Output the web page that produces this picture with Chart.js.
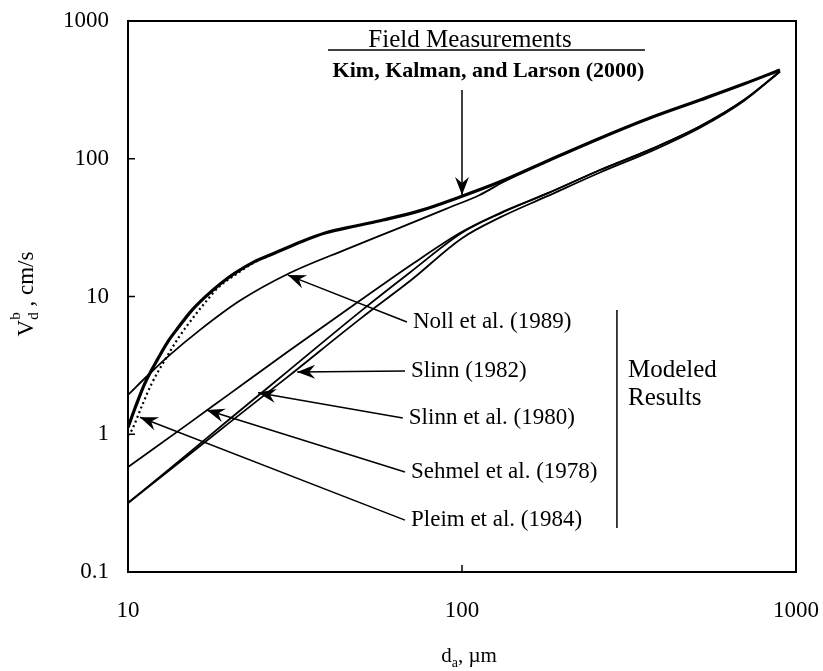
<!DOCTYPE html>
<html>
<head>
<meta charset="utf-8">
<script src="https://cdn.jsdelivr.net/npm/chart.js@4.4.0/dist/chart.umd.min.js"></script>
<style>
  html, body { margin: 0; padding: 0; background: #fff; }
  #wrap { width: 823px; height: 671px; }
</style>
</head>
<body>
<div id="wrap"><canvas id="chart" width="823" height="671"></canvas></div>
<script>
// decade ticks
const X_TICKS = [10, 100, 1000];
const Y_TICKS = [0.1, 1, 10, 100, 1000];

// Kim, Kalman and Larson (2000) field measurements
const fieldD = [10, 10.5, 11.24, 12.3, 13.2, 14.1, 15.5, 17, 19, 20.9, 24, 27.5, 33, 38.9, 48, 58, 75, 98.6, 130, 183, 259, 370, 516, 700, 895];
const fieldV = [1.12, 1.55, 2.35, 3.55, 4.75, 5.9, 7.9, 9.9, 12.5, 14.8, 18, 20.7, 25, 28.9, 32.5, 35.9, 42, 52.8, 68, 98, 141, 200, 267, 350, 441];

// Pleim et al. (1984) - dotted
const pleimD = [10, 10.26, 11, 11.78, 12.9, 14.15, 15.86, 17, 18.6, 20.9, 24, 27.5];
const pleimV = [0.98, 1.07, 1.6, 2.34, 3.46, 5.0, 7.3, 9.0, 11.6, 14.3, 17.8, 20.6];

// Noll et al. (1989)
const nollD = [10, 11.6, 13.4, 16.4, 21.6, 30.5, 45, 65, 90, 113, 133, 183, 259, 370, 516, 700, 895];
const nollV = [1.93, 2.75, 3.8, 5.7, 9.3, 14.8, 22, 31.5, 43.5, 54.6, 67.8, 98, 141, 200, 267, 350, 441];

// Sehmel et al. (1978)
const sehmelD = [10, 15, 20, 30, 50, 70, 100, 130, 180, 259, 370, 516, 700, 895];
const sehmelV = [0.578, 1.17, 1.94, 3.95, 9.5, 16.8, 29.5, 40.4, 56, 82.9, 118, 172, 268, 430];

// Slinn et al. (1980)
const slinn80D = [10, 15, 20, 30, 50, 70, 100, 130, 180, 259, 370, 516, 700, 895];
const slinn80V = [0.317, 0.71, 1.27, 2.85, 7.9, 15.0, 29, 40, 56, 82.9, 118, 172, 268, 430];

// Slinn (1982)
const slinn82D = [10, 15, 20, 30, 50, 70, 100, 130, 180, 259, 370, 516, 700, 895];
const slinn82V = [0.317, 0.69, 1.2, 2.6, 7.0, 13.0, 26.5, 37.5, 53.5, 79.5, 114, 168, 264, 428];

const MODEL_LABELS = ['Noll et al. (1989)', 'Slinn (1982)', 'Slinn et al. (1980)', 'Sehmel et al. (1978)', 'Pleim et al. (1984)'];
// arrow tip on curve and label anchor, in data units (d, V)
const ARROW_TIPS = [[30.1, 14.3], [32.1, 2.83], [24.5, 2.0], [17.2, 1.5], [10.86, 1.33]];
const ARROW_TAILS = [[68.4, 6.53], [67.5, 2.88], [66.5, 1.31], [67.5, 0.532], [67.5, 0.238]];

const SERIF = '"Liberation Serif", "Times New Roman", serif';

function pts(ds, vs) {
    return ds.map((d, i) => ({ x: d, y: vs[i] }));
}

function series(label, ds, vs, width, dash) {
    return {
        label: label,
        data: pts(ds, vs),
        showLine: true,
        borderColor: '#000',
        borderWidth: width,
        borderDash: dash || [],
        pointRadius: 0,
        fill: false,
        cubicInterpolationMode: 'monotone'
    };
}

function drawArrow(ctx, x1, y1, x2, y2) {
    ctx.beginPath();
    ctx.moveTo(x1, y1);
    ctx.lineTo(x2, y2);
    ctx.stroke();
    const a = Math.atan2(y2 - y1, x2 - x1);
    const len = 18, hw = 7, notch = 12;
    ctx.save();
    ctx.translate(x2, y2);
    ctx.rotate(a);
    ctx.beginPath();
    ctx.moveTo(0, 0);
    ctx.lineTo(-len, -hw);
    ctx.lineTo(-notch, 0);
    ctx.lineTo(-len, hw);
    ctx.closePath();
    ctx.fill();
    ctx.restore();
}

// draw text pieces with sub/superscripts, returns total width
function richText(ctx, parts, x, y, measureOnly) {
    let cx = x;
    parts.forEach(p => {
        if (p.stack) {
            let w = 0;
            p.stack.forEach(s => {
                ctx.font = s.size + 'px ' + SERIF;
                if (!measureOnly) ctx.fillText(s.t, cx, y + s.dy);
                w = Math.max(w, ctx.measureText(s.t).width);
            });
            cx += w;
        } else {
            ctx.font = (p.size || 23) + 'px ' + SERIF;
            if (!measureOnly) ctx.fillText(p.t, cx, y + (p.dy || 0));
            cx += ctx.measureText(p.t).width;
        }
    });
    return cx - x;
}

const decorPlugin = {
    id: 'decor',
    afterDraw(chart) {
        const ctx = chart.ctx;
        const area = chart.chartArea;
        const xs = chart.scales.x, ys = chart.scales.y;
        const px = d => xs.getPixelForValue(d);
        const py = v => ys.getPixelForValue(v);
        ctx.save();
        ctx.strokeStyle = '#000';
        ctx.fillStyle = '#000';

        // frame
        ctx.lineWidth = 2;
        ctx.strokeRect(area.left, area.top, area.right - area.left, area.bottom - area.top);

        // inner tick marks
        ctx.lineWidth = 1.5;
        Y_TICKS.slice(1, -1).forEach(v => {
            ctx.beginPath();
            ctx.moveTo(area.left, py(v));
            ctx.lineTo(area.left + 7, py(v));
            ctx.stroke();
        });
        X_TICKS.slice(1, -1).forEach(d => {
            ctx.beginPath();
            ctx.moveTo(px(d), area.bottom);
            ctx.lineTo(px(d), area.bottom - 7);
            ctx.stroke();
        });

        // axis titles
        ctx.textBaseline = 'alphabetic';
        ctx.textAlign = 'left';
        const xTitle = [{ t: 'd', size: 21 }, { t: 'a', size: 14, dy: 5 }, { t: ', \u00b5m', size: 21 }];
        const xw = richText(ctx, xTitle, 0, 0, true);
        richText(ctx, xTitle, px(105) - xw / 2, 662);

        const yTitle = [{ t: 'V' }, { stack: [{ t: 'd', size: 15, dy: 5 }, { t: 'b', size: 15, dy: -13 }] }, { t: ' , cm/s' }];
        const yw = richText(ctx, yTitle, 0, 0, true);
        ctx.save();
        ctx.translate(33, 294);
        ctx.rotate(-Math.PI / 2);
        richText(ctx, yTitle, -yw / 2, 0);
        ctx.restore();

        // field measurement header
        ctx.textAlign = 'center';
        ctx.textBaseline = 'middle';
        ctx.font = '25px ' + SERIF;
        ctx.fillText('Field Measurements', px(105.7), py(728));
        ctx.lineWidth = 1.5;
        ctx.beginPath();
        ctx.moveTo(px(39.7), py(615));
        ctx.lineTo(px(353), py(615));
        ctx.stroke();
        ctx.font = 'bold 22px ' + SERIF;
        ctx.fillText('Kim, Kalman, and Larson (2000)', px(120), py(433));
        ctx.lineWidth = 1.5;
        drawArrow(ctx, px(100), py(316), px(100), py(54.6));

        // model labels and arrows
        ctx.textAlign = 'left';
        ctx.font = '23px ' + SERIF;
        MODEL_LABELS.forEach((lab, i) => {
            const tail = ARROW_TAILS[i], tip = ARROW_TIPS[i];
            ctx.lineWidth = 1.5;
            drawArrow(ctx, px(tail[0]), py(tail[1]), px(tip[0]), py(tip[1]));
            ctx.fillText(lab, px(tail[0]) + 6, py(tail[1]));
        });

        // bracket and "Modeled Results"
        ctx.lineWidth = 1.5;
        ctx.beginPath();
        ctx.moveTo(px(291), py(7.98));
        ctx.lineTo(px(291), py(0.209));
        ctx.stroke();
        ctx.font = '25px ' + SERIF;
        ctx.fillText('Modeled', px(314), py(2.93));
        ctx.fillText('Results', px(314), py(1.83));

        ctx.restore();
    }
};

const tickFont = { family: SERIF, size: 23 };

new Chart(document.getElementById('chart'), {
    type: 'scatter',
    data: {
        datasets: [
            series('Kim, Kalman, and Larson (2000)', fieldD, fieldV, 3.2),
            series('Pleim et al. (1984)', pleimD, pleimV, 2.2, [2, 3]),
            series('Noll et al. (1989)', nollD, nollV, 1.8),
            series('Sehmel et al. (1978)', sehmelD, sehmelV, 1.8),
            series('Slinn et al. (1980)', slinn80D, slinn80V, 1.8),
            series('Slinn (1982)', slinn82D, slinn82V, 1.8)
        ]
    },
    options: {
        responsive: false,
        animation: false,
        layout: { padding: { left: 0, top: 21, right: 27, bottom: 0 } },
        plugins: { legend: { display: false }, tooltip: { enabled: false } },
        scales: {
            x: {
                type: 'logarithmic',
                min: 10,
                max: 1000,
                grid: { display: false },
                border: { display: false },
                ticks: {
                    font: tickFont, color: '#000', padding: 17, maxRotation: 0, autoSkip: false,
                    callback: v => String(v)
                },
                afterBuildTicks: s => { s.ticks = X_TICKS.map(v => ({ value: v })); },
                afterFit: s => {
                    s.height = 99;
                    s.paddingLeft = 0; s.paddingRight = 0;
                }
            },
            y: {
                type: 'logarithmic',
                min: 0.1,
                max: 1000,
                grid: { display: false },
                border: { display: false },
                ticks: {
                    font: tickFont, color: '#000', padding: 11, autoSkip: false,
                    callback: v => String(v)
                },
                afterBuildTicks: s => { s.ticks = Y_TICKS.map(v => ({ value: v })); },
                afterFit: s => {
                    s.width = 128;
                    s.paddingTop = 0; s.paddingBottom = 0;
                }
            }
        }
    },
    plugins: [decorPlugin]
});
</script>
</body>
</html>
